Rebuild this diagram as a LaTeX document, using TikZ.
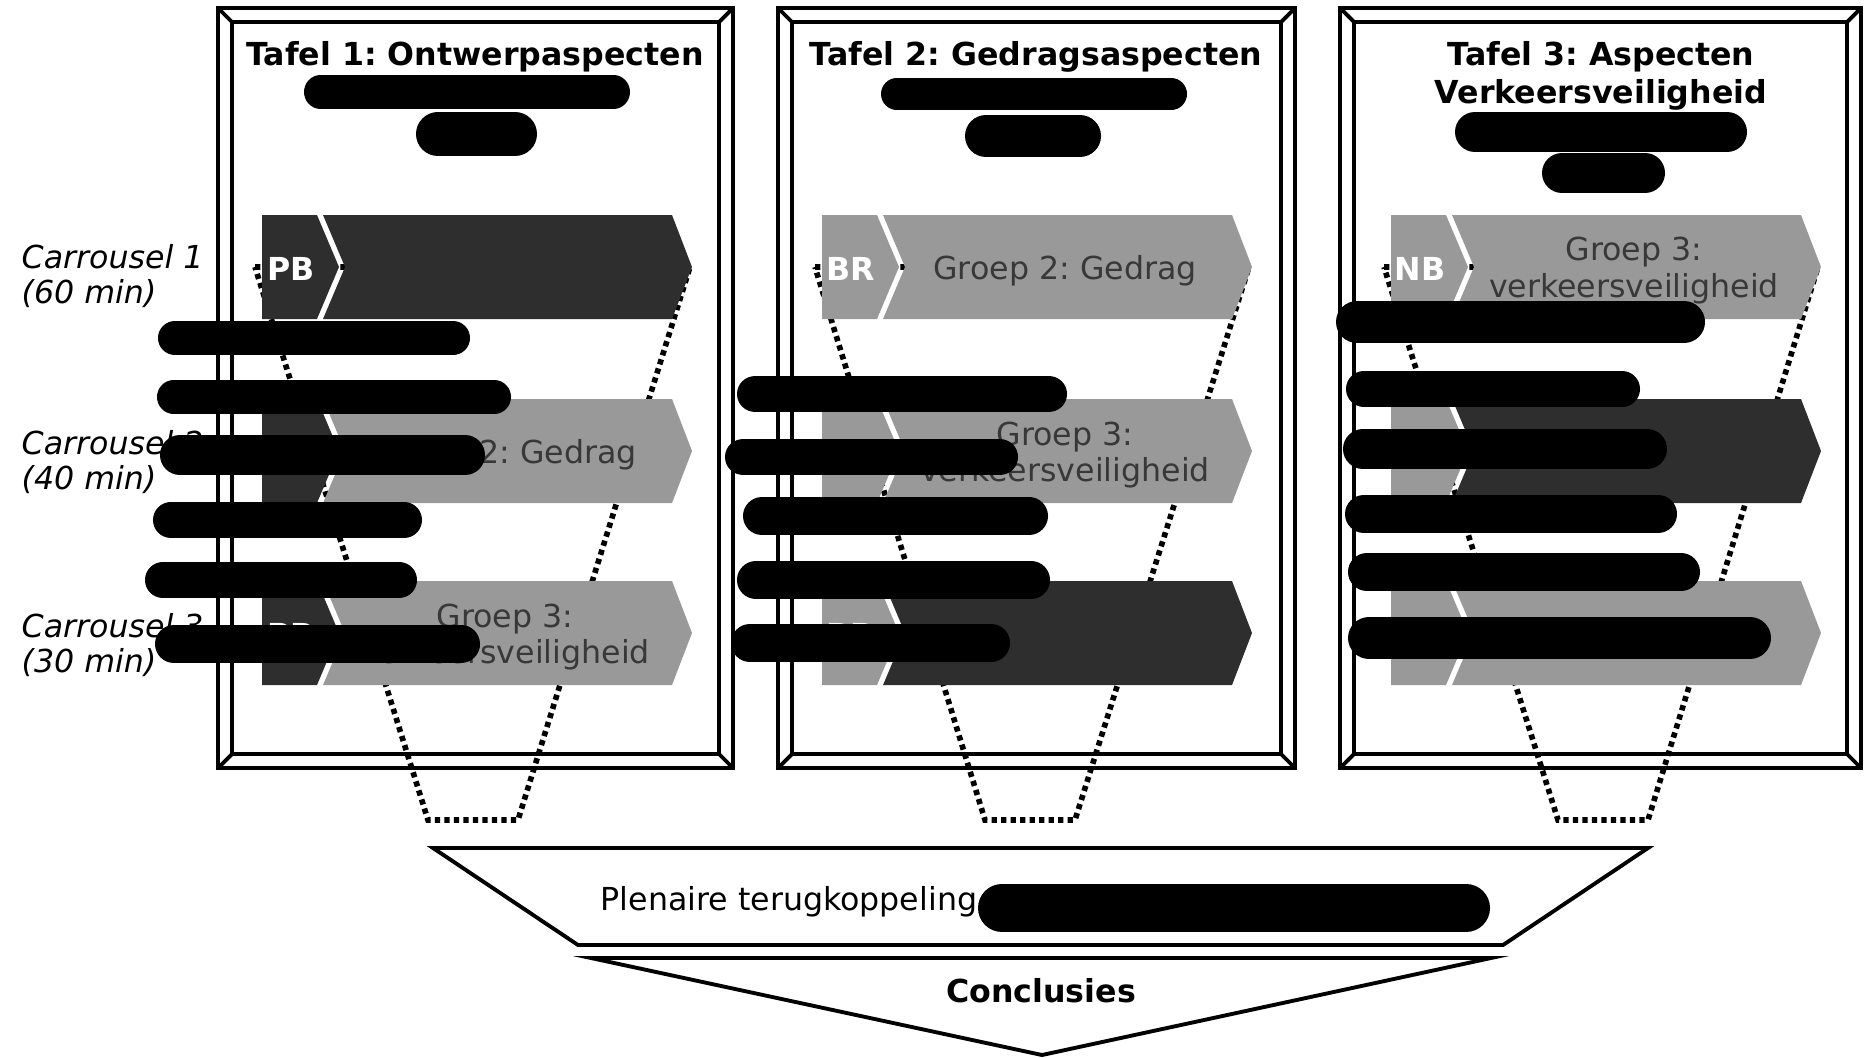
\documentclass[tikz,border=0pt]{standalone}
\usepackage{fontspec}
\setmainfont{DejaVu Sans}[ItalicFont={DejaVu Sans Oblique},BoldFont={DejaVu Sans Bold}]
\frenchspacing

\definecolor{grpmid}{gray}{0.6}
\definecolor{grpdark}{gray}{0.18}
\definecolor{grptext}{gray}{0.22}

\begin{document}
\begin{tikzpicture}[
  x=0.01cm,y=-0.01cm,
  frameline/.style={line width=1.1pt, line join=miter},
  funnel/.style={line width=1.6pt, dash pattern=on 1.5pt off 1.2pt},
  title/.style={font=\fontsize{9}{11}\selectfont\bfseries, align=center, inner sep=0pt},
  carr/.style={font=\fontsize{9}{10}\selectfont\itshape, align=left, anchor=west, inner sep=0pt},
  groep/.style={font=\fontsize{9}{10.5}\selectfont, text=grptext, align=center, inner sep=0pt},
  tag/.style={font=\fontsize{9}{10}\selectfont\bfseries, text=white, inner sep=0pt},
  redact/.style={black, line cap=round}
]
\useasboundingbox (0,0) rectangle (1864,1057);

% frames of the three tables
\foreach \fl/\fr in {218/733, 778/1295, 1340/1861}{
  \draw[frameline] (\fl,8) rectangle (\fr,768);
  \draw[frameline] (\fl+14,22) rectangle (\fr-14,754);
  \draw[frameline] (\fl,8) -- (\fl+14,22) (\fr,8) -- (\fr-14,22)
                   (\fl,768) -- (\fl+14,754) (\fr,768) -- (\fr-14,754);
}

% dotted funnels
\foreach \al/\ar/\fc in {262/692/473, 822/1251/1030, 1391/1820/1603}
  \draw[funnel] (\al-7,267) -- (\ar-2,267) -- (\fc+45,820) -- (\fc-45,820) -- cycle;

% tabs
\foreach \al/\tagc/\tagtxt [count=\t] in {262/grpdark/PB, 822/grpmid/BR, 1391/grpmid/NB}{
  \foreach \yc [count=\r] in {267,451,633}{
    \fill[\tagc] (\al,\yc-52) -- (\al+55,\yc-52) -- (\al+77,\yc) -- (\al+55,\yc+52) -- (\al,\yc+52) -- cycle;
    \node[tag] (tag\t\r) at (\al+29,\yc+2) {\tagtxt};
  }
}

% group arrows
\foreach \al/\yc/\col/\txt [count=\g] in {
  262/267/grpdark/{}, 262/451/grpmid/{Groep 2: Gedrag}, 262/633/grpmid/{Groep 3:\\verkeersveiligheid},
  822/267/grpmid/{Groep 2: Gedrag}, 822/451/grpmid/{Groep 3:\\verkeersveiligheid}, 822/633/grpdark/{},
  1391/267/grpmid/{Groep 3:\\verkeersveiligheid}, 1391/451/grpdark/{}, 1391/633/grpmid/{}}{
  \fill[\col] (\al+61,\yc-52) -- (\al+410,\yc-52) -- (\al+430,\yc) -- (\al+410,\yc+52)
              -- (\al+61,\yc+52) -- (\al+83,\yc) -- cycle;
  \node[groep] (groep\g) at (\al+243,\yc+4) {\txt};
}

% titles and carrousels
\node[title] (tafel1) at (475,57) {Tafel 1: Ontwerpaspecten};
\node[title] (tafel2) at (1036,57) {Tafel 2: Gedragsaspecten};
\node[title] (tafel3) at (1601,76) {Tafel 3: Aspecten\\Verkeersveiligheid};
\foreach \n/\dur/\yc in {1/60/276, 2/40/462, 3/30/645}
  \node[carr] (carr\n) at (21,\yc) {Carrousel \n\\(\dur{} min)};

% plenary part
\draw[frameline] (433,848) -- (1648,848) -- (1503,945) -- (578,945) -- cycle;
\node[font=\fontsize{9}{10}\selectfont, anchor=west, inner sep=0pt] (plenair) at (600,902) {Plenaire terugkoppeling};
\draw[frameline] (591,958) -- (1491,958) -- (1042,1055) -- cycle;
\node[title] (concl) at (1041,991) {Conclusies};

% blacked out parts
\foreach \xa/\xb/\yy/\ww in {
  304/630/92/9.4, 416/537/134/12.5, 881/1187/94/9, 965/1101/136/12, 1455/1747/132/11.4, 1542/1665/173/11.4,
  158/470/338/9.7, 157/511/397/9.5, 160/485/455/11.4, 153/422/520/10.2, 145/417/580/10.2, 155/480/644/10.8,
  737/1067/394/10.5, 725/1018/457/10.5, 743/1048/516/10.8, 737/1050/580/10.8, 731/1010/643/10.8,
  1336/1705/322/12, 1346/1640/389/10.2, 1343/1667/449/11.4, 1345/1677/514/10.8, 1348/1700/572/10.8, 1348/1771/638/12,
  978/1490/908/13.6}
  \draw[redact, line width=\ww pt] (\xa+1.757*\ww,\yy) -- (\xb-1.757*\ww,\yy);
\end{tikzpicture}
\end{document}
